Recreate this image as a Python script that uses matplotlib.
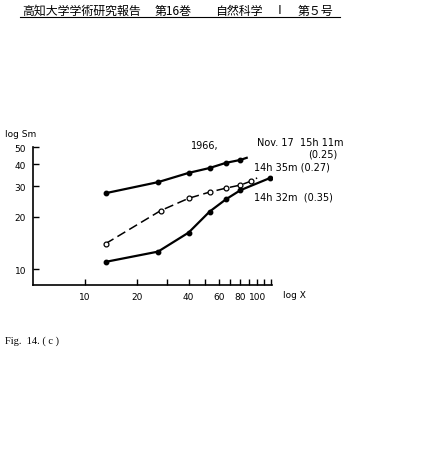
import matplotlib
matplotlib.use("Agg")
import matplotlib.pyplot as plt
from matplotlib.ticker import FixedLocator, NullFormatter, FixedFormatter

# values (log-log axes)
x_top = [13.2, 26.6, 40, 53, 66, 80, 87]
y_top = [27.3, 31.6, 35.7, 38.1, 40.8, 42.4, 43.6]
x_mid = [13.2, 27.6, 40, 53, 66, 80, 92, 100]
y_mid = [14.0, 21.7, 25.5, 27.7, 29.2, 30.4, 32.0, 33.4]
x_low = [13.2, 26.6, 40, 53, 66, 80, 119]
y_low = [11.0, 12.6, 16.2, 21.4, 25.2, 28.4, 33.4]

x_major = [10, 20, 40, 60, 80, 100]
x_minor = [30, 50, 70, 90, 110, 120]
y_major = [10, 20, 30, 40, 50]

header = [(22, "高知大学学術研究報告"), (155, "第16巻"), (215, "自然科学"), (274, "Ⅰ"), (298, "第５号")]

W, H = 421, 460
fig = plt.figure(figsize=(W / 100, H / 100), dpi=100)

def fx(px):
	return px / W

def fy(py):
	return 1 - py / H

ax = fig.add_axes([fx(33), fy(286), fx(272) - fx(33), fy(148) - fy(286)])
ax.set_xscale("log")
ax.set_yscale("log")
ax.set_xlim(5, 122)
ax.set_ylim(8.1, 50.3)

# curves
ax.plot(x_top, y_top, "k-", lw=1.6, marker="o", ms=3.2, markevery=list(range(len(x_top) - 1)))
ax.plot(x_mid, y_mid, "k-", lw=1.1, dashes=(6, 3), marker="o", ms=3.5, mfc="white",
	mew=0.9, markevery=list(range(len(x_mid) - 1)))
ax.plot(x_low, y_low, "k-", lw=1.6, marker="o", ms=3.2)

# axes look
for s in ["top", "right"]:
	ax.spines[s].set_visible(False)
ax.spines["left"].set_linewidth(1.2)
ax.spines["bottom"].set_linewidth(1.2)
ax.xaxis.set_major_locator(FixedLocator(x_major))
ax.xaxis.set_major_formatter(FixedFormatter([str(v) for v in x_major]))
ax.xaxis.set_minor_locator(FixedLocator(x_minor))
ax.xaxis.set_minor_formatter(NullFormatter())
ax.yaxis.set_major_locator(FixedLocator(y_major))
ax.yaxis.set_major_formatter(FixedFormatter([str(v) for v in y_major]))
ax.yaxis.set_minor_locator(FixedLocator([]))
ax.tick_params(axis="both", which="both", direction="in", length=4, width=1.0,
	labelsize=6.5, pad=5)

# labels and annotations
fig.text(fx(5), fy(135), "log Sm", fontsize=6.5, va="center")
fig.text(fx(283), fy(296), "log X", fontsize=6.5, va="center")
fig.text(fx(205), fy(146), "1966,", fontsize=7, ha="center", va="center")
fig.text(fx(257), fy(143), "Nov. 17  15h 11m", fontsize=7, va="center")
fig.text(fx(337), fy(155), "(0.25)", fontsize=7, ha="right", va="center")
fig.text(fx(254), fy(168), "14h 35m (0.27)", fontsize=7, va="center")
fig.text(fx(254), fy(198), "14h 32m  (0.35)", fontsize=7, va="center")

# page header and caption
for px, txt in header:
	fig.text(fx(px), fy(11), txt, fontsize=8.6, va="center",
		family=["Noto Sans CJK JP", "DejaVu Sans"])
fig.add_artist(plt.Line2D([fx(20), fx(340)], [fy(18), fy(18)], color="k", lw=0.8))
fig.text(fx(5), fy(341), "Fig.  14. ( c )", fontsize=7.5, va="center", family="Liberation Serif")

fig.savefig("out.png", dpi=100)
